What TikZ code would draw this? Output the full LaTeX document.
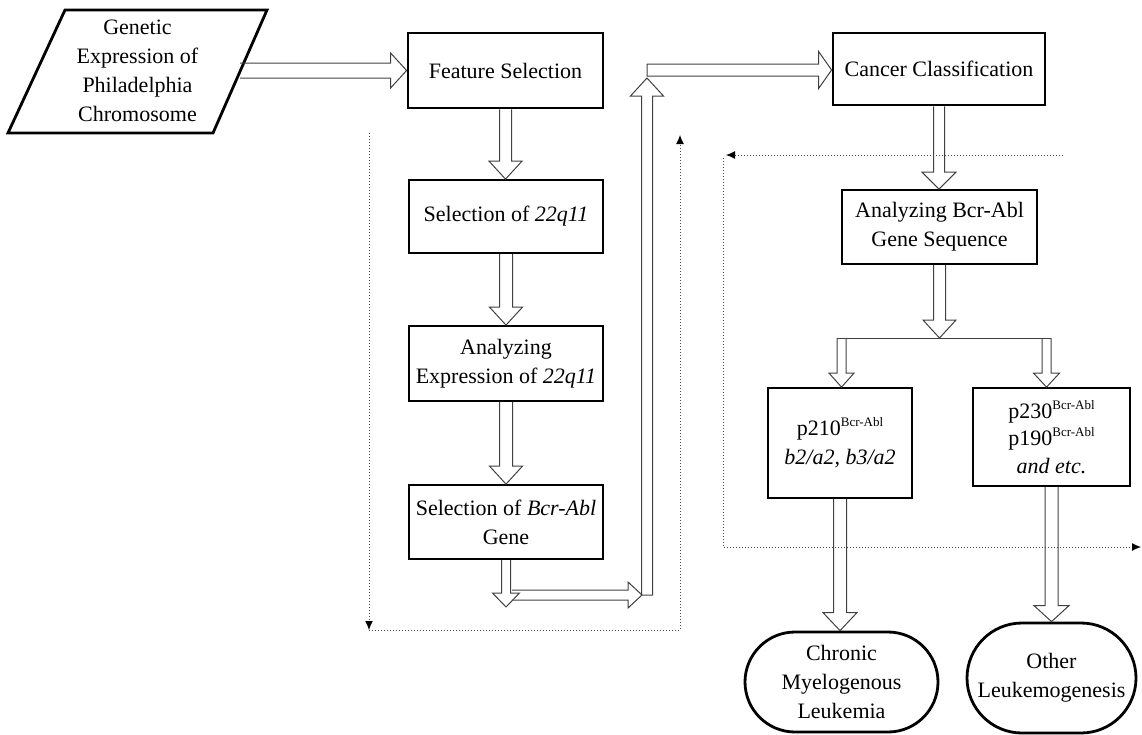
\documentclass[tikz,border=0pt]{standalone}
\usepackage{fontspec}
\setmainfont{Liberation Serif}
\usetikzlibrary{calc,arrows.meta,shapes.misc}
\newcommand{\bsup}[1]{\raisebox{9pt}{\fontsize{13}{13}\selectfont #1}}
\begin{document}
\begin{tikzpicture}[x=1pt,y=-1pt,
 font=\fontsize{22}{29}\selectfont,
 box/.style={draw=black, line width=1.8pt, align=center, inner sep=0pt},
 tbox/.style={box, line width=2.8pt},
 term/.style={draw=black, line width=2.8pt, rounded rectangle, align=center, inner sep=0pt},
 barrow/.style={draw=black!75, line width=1pt, line join=miter},
 bdown/.style n args={3}{barrow, to path={let \p1=(\tikztostart), \p2=(\tikztotarget) in
   (\x1-#1,\y1) -- (\x1-#1,\y2+#3) -- (\x1-#2,\y2+#3) -- (\x1,\y2) -- (\x1+#2,\y2+#3) -- (\x1+#1,\y2+#3) -- (\x1+#1,\y1)}},
 bup/.style n args={3}{barrow, to path={let \p1=(\tikztostart), \p2=(\tikztotarget) in
   (\x1-#1,\y1) -- (\x1-#1,\y2-#3) -- (\x1-#2,\y2-#3) -- (\x1,\y2) -- (\x1+#2,\y2-#3) -- (\x1+#1,\y2-#3) -- (\x1+#1,\y1)}},
 bright/.style n args={3}{barrow, to path={let \p1=(\tikztostart), \p2=(\tikztotarget) in
   (\x1,\y1+#1) -- (\x2-#3,\y1+#1) -- (\x2-#3,\y1+#2) -- (\x2,\y1) -- (\x2-#3,\y1-#2) -- (\x2-#3,\y1-#1) -- (\x1,\y1-#1)}},
 dots/.style={draw=black!70, dotted, line width=1pt},
 dtip/.style={-{Latex[length=9pt,width=8pt,black]}},
]
\useasboundingbox (0,0) rectangle (1142,734);

% input parallelogram
\draw[line width=2.8pt, line join=miter] (8,133) -- (213,133) -- (267,10) -- (65,10) -- cycle;
\node[align=center, inner sep=0pt, minimum width=205pt, minimum height=123pt] (gen) at (137.5,70.5)
  {Genetic\\Expression of\\Philadelphia\\Chromosome};

% left column
\node[tbox, minimum width=195pt, minimum height=75pt] (fs) at (505.5,70.5) {Feature Selection};
\node[box, minimum width=194pt, minimum height=73pt] (s1) at (506,216.5) {Selection of \textit{22q11}};
\node[box, minimum width=194pt, minimum height=75pt] (s2) at (506,363.5) {Analyzing\\Expression of \textit{22q11}};
\node[box, minimum width=194pt, minimum height=74pt] (s3) at (506,522) {Selection of \textit{Bcr-Abl}\\Gene};

% right column
\node[tbox, minimum width=212pt, minimum height=72pt] (cc) at (939,69) {Cancer Classification};
\node[box, minimum width=195pt, minimum height=74pt] (ab) at (939.5,227) {Analyzing Bcr-Abl\\Gene Sequence};
\node[box, minimum width=144pt, minimum height=110pt] (p210) at (840,443)
  {p210\bsup{Bcr-Abl}\\\textit{b2/a2, b3/a2}};
\node[box, minimum width=157pt, minimum height=98pt, font=\fontsize{22}{27.5}\selectfont] (p230) at (1051.5,437)
  {p230\bsup{Bcr-Abl}\\p190\bsup{Bcr-Abl}\\\textit{and etc.}};
\node[term, minimum width=193pt, minimum height=100pt] (cml) at (841.5,682) {Chronic\\Myelogenous\\Leukemia};
\node[term, minimum width=169pt, minimum height=110pt] (oth) at (1051.5,678) {Other\\Leukemogenesis};

% helper coordinates
\coordinate (c1) at (506,607);
\coordinate (c2) at (512,595);
\coordinate (c3) at (642,595);
\coordinate (c4) at (647,595);
\coordinate (c5) at (647,78);
\coordinate (c6) at (647,70);
\coordinate (br) at (939.5,338);
\coordinate (bl) at (837,338);
\coordinate (brr) at (1051,338);
\coordinate (bL) at (841.5,338);
\coordinate (bR) at (1046.5,338);

% block arrows
\draw[bright={7.5pt}{17.5pt}{16pt}] (gen.east) to (fs.west);
\draw[bdown={6pt}{16.5pt}{18pt}] (fs.south) to (s1.north);
\draw[bdown={6.5pt}{16.5pt}{18pt}] (s1.south) to (s2.north);
\draw[bdown={6.5pt}{16.5pt}{18pt}] (s2.south) to (s3.north);
\draw[bdown={4.5pt}{13.5pt}{14pt}] (s3.south) to (c1);
\draw[bright={5pt}{13pt}{14pt}] (c2) to (c3);
\draw[bup={5.5pt}{16.5pt}{18pt}] (c4) to (c5) -- cycle;
\draw[bright={6pt}{18.5pt}{13pt}] (c6) to (cc.west) -- cycle;
\draw[bdown={5.5pt}{17pt}{17pt}] (cc.south) to (ab.north);
\draw[bdown={6pt}{16.5pt}{18pt}] (ab.south) to (br);
\draw[barrow] (bl) -- (brr);
\draw[bdown={4.5pt}{12.5pt}{14pt}] (bL) to (p210.north);
\draw[bdown={4.5pt}{13pt}{14pt}] (bR) to (p230.north);
\draw[bdown={6.5pt}{17pt}{18pt}] (p210.south) to (cml.north);
\draw[bdown={6.5pt}{17.5pt}{16pt}] (p230.south) to (oth.north);

% dotted feedback lines
\coordinate (d1) at (369,133);
\coordinate (d2) at (369,630);
\coordinate (d3) at (680,630);
\coordinate (d4) at (680,135);
\coordinate (e1) at (1063,155);
\coordinate (e2) at (726,155);
\coordinate (e3) at (723,158);
\coordinate (e4) at (723,547);
\coordinate (e5) at (1141,547);
\draw[dots, dtip] (d1) -- (d2);
\draw[dots, dtip] (d2) -- (d3) -- (d4);
\draw[dots, dtip] (e1) -- (e2);
\draw[dots, dtip] (e3) -- (e4) -- (e5);
\end{tikzpicture}
\end{document}
